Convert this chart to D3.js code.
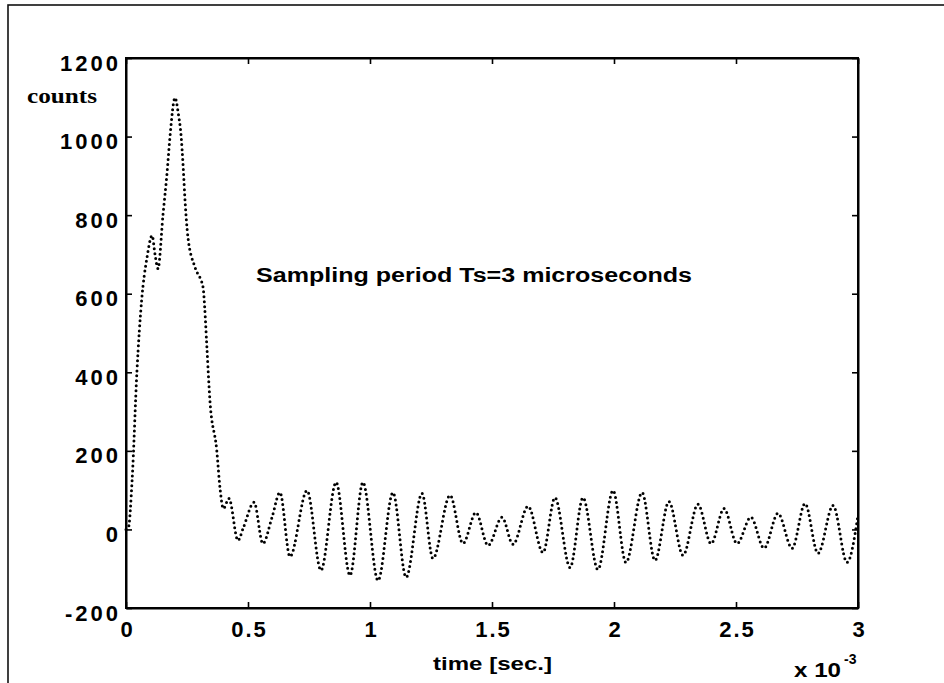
<!DOCTYPE html>
<html>
<head>
<meta charset="utf-8">
<script src="https://cdn.jsdelivr.net/npm/d3@7"></script>
<style>
  html, body { margin: 0; padding: 0; background: #fff; }
  svg { display: block; }
  .tick-label { font-family: "Liberation Sans", Arial, sans-serif; font-weight: bold; font-size: 22px; fill: #000; }
  .y-label { letter-spacing: 3px; }
  .x-label { letter-spacing: 2px; }
</style>
</head>
<body>
<script>
// Detector counts sampled every 3 microseconds (time in units of 1e-3 s)
const timeMs = [0.000, 0.010, 0.025, 0.045, 0.064, 0.086, 0.107, 0.119, 0.131, 0.152, 0.168, 0.180, 0.201,
  0.214, 0.226, 0.234, 0.242, 0.254, 0.283, 0.316, 0.322, 0.331, 0.344, 0.372, 0.385, 0.399,
  0.422, 0.459, 0.480, 0.525, 0.561, 0.598, 0.631, 0.672, 0.742, 0.799, 0.861, 0.918, 0.971,
  1.033, 1.094, 1.148, 1.213, 1.258, 1.328, 1.381, 1.434, 1.484, 1.541, 1.586, 1.648, 1.709,
  1.758, 1.820, 1.873, 1.934, 1.996, 2.049, 2.115, 2.168, 2.225, 2.283, 2.344, 2.398, 2.451,
  2.504, 2.561, 2.615, 2.672, 2.730, 2.783, 2.836, 2.898, 2.955, 3.000];
const counts = [0, 5, 125, 405, 583, 692, 748, 700, 664, 804, 906, 998, 1099,
  1060, 1000, 926, 837, 743, 667, 616, 570, 470, 328, 201, 107, 53,
  79, -28, 3, 69, -36, 30, 94, -69, 99, -104, 120, -117, 120,
  -130, 94, -122, 92, -74, 87, -36, 43, -41, 31, -38, 59, -59,
  81, -97, 81, -102, 99, -84, 94, -79, 71, -66, 64, -36, 53,
  -36, 31, -48, 41, -48, 66, -61, 61, -84, 36];

const xTicks = [0, 0.5, 1, 1.5, 2, 2.5, 3];
const yTicks = [-200, 0, 200, 400, 600, 800, 1000, 1200];

const W = 944, H = 683;
const plot = { left: 126, right: 858, top: 58, bottom: 608 };

const svg = d3.select("body").append("svg").attr("width", W).attr("height", H);

// outer frame around the figure
svg.append("rect")
  .attr("x", 8).attr("y", 5).attr("width", W + 20).attr("height", H + 20)
  .attr("fill", "none").attr("stroke", "#111").attr("stroke-width", 1.6);

const x = d3.scaleLinear().domain([0, 3]).range([plot.left, plot.right]);
const y = d3.scaleLinear().domain([-200, 1200]).range([plot.bottom, plot.top]);

// plain number labels with an ASCII hyphen for negatives
const plain = d => String(d);

// axes with inward ticks on all four sides
const tickLen = 6;
const axB = svg.append("g").attr("transform", `translate(0,${plot.bottom})`)
  .call(d3.axisBottom(x).tickValues(xTicks).tickSizeInner(-tickLen).tickSizeOuter(0).tickFormat(plain));
const axT = svg.append("g").attr("transform", `translate(0,${plot.top})`)
  .call(d3.axisTop(x).tickValues(xTicks).tickSizeInner(-tickLen).tickSizeOuter(0).tickFormat(""));
const axL = svg.append("g").attr("transform", `translate(${plot.left},0)`)
  .call(d3.axisLeft(y).tickValues(yTicks).tickSizeInner(-tickLen).tickSizeOuter(0).tickFormat(plain));
const axR = svg.append("g").attr("transform", `translate(${plot.right},0)`)
  .call(d3.axisRight(y).tickValues(yTicks).tickSizeInner(-tickLen).tickSizeOuter(0).tickFormat(""));

[axB, axT, axL, axR].forEach(g => {
  g.select(".domain").attr("stroke", "#000").attr("stroke-width", 2);
  g.selectAll(".tick line").attr("stroke", "#000").attr("stroke-width", 1.6);
});

axB.selectAll(".tick text").attr("class", "tick-label x-label")
  .attr("font-family", null).attr("font-size", null)
  .attr("y", 13).attr("dy", "0.71em").attr("dx", "1px");
axL.selectAll(".tick text").attr("class", "tick-label y-label")
  .attr("font-family", null).attr("font-size", null)
  .attr("x", -5).attr("dy", "0.55em");

// close the corners of the axis box
svg.append("rect")
  .attr("x", plot.left).attr("y", plot.top)
  .attr("width", plot.right - plot.left).attr("height", plot.bottom - plot.top)
  .attr("fill", "none").attr("stroke", "#000").attr("stroke-width", 2);

// dotted signal trace
const data = timeMs.map((t, i) => ({ t, v: counts[i] }));
const line = d3.line().x(d => x(d.t)).y(d => y(d.v)).curve(d3.curveMonotoneX);
svg.append("path")
  .datum(data)
  .attr("d", line)
  .attr("fill", "none")
  .attr("stroke", "#000")
  .attr("stroke-width", 3)
  .attr("stroke-linecap", "round")
  .attr("stroke-dasharray", "0 5");

// labels
svg.append("text")
  .attr("x", 27).attr("y", 103)
  .attr("font-family", "'Liberation Serif', 'Times New Roman', serif")
  .attr("font-weight", "bold").attr("font-size", 20)
  .attr("textLength", 70).attr("lengthAdjust", "spacingAndGlyphs")
  .text("counts");

svg.append("text")
  .attr("x", 433).attr("y", 670)
  .attr("font-family", "'Liberation Sans', Arial, sans-serif")
  .attr("font-weight", "bold").attr("font-size", 19)
  .attr("textLength", 119).attr("lengthAdjust", "spacingAndGlyphs")
  .text("time [sec.]");

svg.append("text")
  .attr("x", 794).attr("y", 677)
  .attr("font-family", "'Liberation Sans', Arial, sans-serif")
  .attr("font-weight", "bold").attr("font-size", 21)
  .attr("textLength", 47).attr("lengthAdjust", "spacingAndGlyphs")
  .text("x 10");
svg.append("text")
  .attr("x", 844).attr("y", 664)
  .attr("font-family", "'Liberation Sans', Arial, sans-serif")
  .attr("font-weight", "bold").attr("font-size", 14)
  .text("-3");

svg.append("text")
  .attr("x", 256).attr("y", 282)
  .attr("font-family", "'Liberation Sans', Arial, sans-serif")
  .attr("font-weight", "bold").attr("font-size", 20)
  .attr("textLength", 436).attr("lengthAdjust", "spacingAndGlyphs")
  .text("Sampling period Ts=3 microseconds");
</script>
</body>
</html>
